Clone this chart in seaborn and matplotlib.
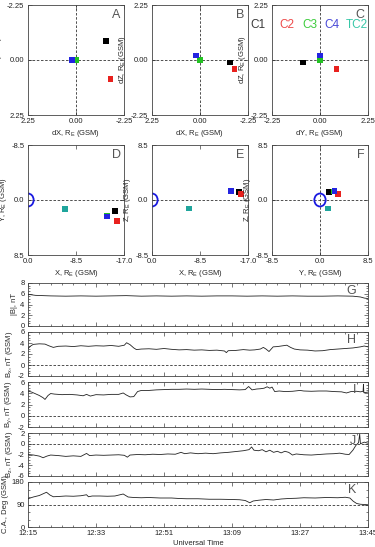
import numpy as np
import pandas as pd
import matplotlib
matplotlib.use("Agg")
import matplotlib.pyplot as plt
import seaborn as sns
from matplotlib.patches import Arc, Ellipse
from matplotlib.ticker import AutoMinorLocator

# spacecraft
craft = ["C1", "C2", "C3", "C4", "TC2"]
craft_colors = ["#000000", "#e8211e", "#22c322", "#2424e0", "#1fa59c"]
legend_colors = ["#3a3a3a", "#ee4a4a", "#3ccc3c", "#4a4ad8", "#38c8a8"]

# separation from C3, R_E (GSM)
sep_dx = [-1.40, -1.62, 0.00, 0.18]
sep_dy = [-0.78, 0.77, 0.00, 0.00]
sep_dz = [-0.10, -0.37, 0.00, 0.18]

# positions, R_E (GSM)
pos_x = [-15.4, -15.7, -13.95, -14.0, -6.5]
pos_y = [1.65, 3.22, 2.48, 2.55, 1.37]
pos_z = [1.20, 0.94, 1.32, 1.41, -1.30]

# time series, minutes after 12:15
time_labels = ["12:15", "12:33", "12:51", "13:09", "13:27", "13:45"]

bmag_t = [0, 2, 4, 6, 10, 14, 18, 22, 26, 30, 34, 38, 42, 46, 50, 54, 58, 62,
          66, 70, 74, 78, 82, 86, 88, 89, 90]
bmag_v = [5.9, 5.7, 5.65, 5.6, 5.55, 5.6, 5.55, 5.6, 5.65, 5.55, 5.6, 5.55, 5.6,
          5.55, 5.6, 5.6, 5.55, 5.6, 5.55, 5.6, 5.55, 5.55, 5.6, 5.55, 5.4, 5.2, 5.1]

bx_t = [0, 0.8, 1.4, 3, 4.5, 5.5, 6.7, 8, 10, 12, 14, 16, 18, 20, 22, 24, 25.5,
        26.1, 27, 28, 28.7, 30, 32, 34, 36, 38, 40, 42, 44, 46, 48, 50, 52, 52.5,
        53, 55, 57, 58.7, 60, 61.5, 62.3, 63, 63.8, 64.9, 66, 67.5, 68.5, 69.5,
        70.5, 72, 74, 76, 78, 80, 82, 84, 86, 88, 89, 90]
bx_v = [3.0, 3.5, 3.75, 3.85, 3.8, 3.5, 3.2, 3.4, 3.45, 3.35, 3.5, 3.4, 3.5,
        3.45, 3.55, 3.4, 3.6, 4.05, 3.7, 3.1, 2.8, 2.9, 2.95, 2.85, 3.0, 2.85,
        2.75, 2.8, 2.7, 2.75, 2.65, 2.7, 2.55, 2.25, 2.6, 2.65, 2.8, 2.7, 2.75,
        2.9, 3.2, 2.9, 2.45, 3.3, 3.35, 3.5, 3.6, 3.2, 2.9, 2.75, 2.7, 2.55, 2.6,
        2.8, 2.9, 3.0, 3.1, 3.3, 3.45, 3.3]

by_t = [0, 1, 2, 3, 4, 4.5, 5.3, 6, 7, 9, 11, 13, 14.6, 15.5, 16.5, 18, 20, 22,
        24, 25.2, 26, 27, 28, 29, 30, 32, 34, 36, 38, 40, 42, 44, 46, 48, 50, 52,
        54, 56, 57.5, 58.4, 59.3, 60.5, 61.5, 62.5, 63.3, 64, 64.6, 65.3, 66.5,
        68, 70, 72, 73, 75, 77, 79, 81, 83, 84.3, 85.5, 87, 88, 88.7, 88.8, 88.9, 90]
by_v = [4.4, 4.2, 3.9, 3.6, 3.2, 2.9, 3.6, 3.95, 3.85, 3.75, 3.8, 3.7, 3.55,
        3.8, 3.5, 3.75, 3.7, 3.8, 3.8, 4.05, 3.7, 3.35, 3.4, 4.3, 4.5, 4.5, 4.6,
        4.65, 4.7, 4.7, 4.75, 4.7, 4.75, 4.7, 4.65, 4.7, 4.65, 4.6, 4.65, 5.2,
        4.6, 4.75, 4.8, 4.9, 5.15, 4.9, 5.1, 4.3, 4.4, 4.3, 4.35, 4.5, 4.4, 4.35,
        4.4, 4.4, 4.3, 4.25, 4.05, 4.3, 4.35, 4.25, 4.35, 5.6, 4.1, 4.2]

bz_t = [0, 1.5, 3, 4, 5, 6, 8, 10, 12, 14, 15.5, 16.3, 18, 20, 22, 24, 25.5,
        26.3, 27, 29, 31, 33, 35, 37, 39, 40.5, 41.5, 43, 45, 47, 49, 51, 53, 55,
        57, 58.5, 59.2, 59.8, 61, 62, 63, 64, 65, 66, 67, 68, 69, 70, 71, 73, 75,
        77, 79, 81, 82.5, 84, 85, 86, 86.8, 87.5, 87.8, 88, 89, 90]
bz_v = [-2.0, -2.1, -2.3, -2.6, -2.3, -2.1, -2.2, -2.35, -2.25, -2.35, -1.8,
        -2.2, -2.1, -2.15, -2.1, -2.05, -2.15, -2.5, -2.1, -2.0, -2.05, -1.95,
        -2.0, -1.9, -1.95, -1.6, -1.85, -1.7, -1.85, -1.75, -1.85, -1.7, -1.6,
        -1.45, -1.3, -1.1, -0.6, -1.2, -1.3, -1.1, -1.5, -1.2, -1.6, -1.4, -1.7,
        -1.4, -1.6, -2.1, -1.9, -2.05, -2.1, -2.0, -1.9, -1.85, -1.75, -1.95,
        -2.0, -1.2, -0.3, 0.2, 1.8, 0.0, 0.3, 0.1]

ca_t = [0, 1.4, 3, 4.9, 5.8, 6.7, 8, 10, 12, 14, 15.5, 16, 17, 19, 21, 23, 25.2,
        26.5, 28, 30, 32, 35, 38, 40, 42, 45, 48, 51, 54, 56, 57.5, 58.7, 59.6,
        61, 63, 65, 67, 69, 71, 73, 76, 79, 82, 84, 85.2, 86.1, 87, 88, 89, 90]
ca_v = [113, 120, 126, 139, 128, 121, 122, 124, 123, 125, 129, 121, 124, 124,
        123, 124, 132, 120, 118, 117, 118, 116, 116, 114, 113, 113, 111, 111,
        110, 109, 106, 97, 104, 107, 110, 108, 112, 114, 115, 117, 116, 118, 117,
        119, 116, 103, 94, 91, 90, 89]

sns.set_theme(style="ticks")
plt.rcParams["font.family"] = ["Liberation Sans", "DejaVu Sans"]
plt.rcParams["mathtext.fontset"] = "custom"
plt.rcParams["mathtext.rm"] = "Liberation Sans"
plt.rcParams["axes.unicode_minus"] = False

W, H = 375, 547
fig = plt.figure(figsize=(W / 100, H / 100), dpi=100)
fig.patch.set_facecolor("white")

def box(x0, y0, x1, y1):
    return fig.add_axes([x0 / W, 1 - y1 / H, (x1 - x0) / W, (y1 - y0) / H])

def style(ax):
    for s in ax.spines.values():
        s.set_linewidth(0.6)
        s.set_color("#444444")
    ax.tick_params(which="both", direction="in", top=True, right=True,
                   width=0.5, colors="#444444", labelsize=5.5, pad=2.5,
                   labelcolor="#222222")
    ax.tick_params(which="major", length=3)
    ax.tick_params(which="minor", length=1.6)
    ax.set_facecolor("white")

def dash(ax, h=None, v=None):
    if h is not None:
        ax.axhline(h, ls=(0, (3, 2)), lw=0.6, color="#333333", zorder=1)
    if v is not None:
        ax.axvline(v, ls=(0, (3, 2)), lw=0.6, color="#333333", zorder=1)

def letter(ax, s):
    ax.text(0.965, 0.965, s, transform=ax.transAxes, ha="right", va="top",
            fontsize=9, color="#555555")

def scatter(ax, xs, ys, names):
    df = pd.DataFrame({"x": xs, "y": ys, "sc": names})
    sns.scatterplot(data=df, x="x", y="y", hue="sc", hue_order=names,
                    palette=craft_colors[:len(names)], marker="s", s=17,
                    linewidth=0, legend=False, ax=ax, zorder=3)

RE = r"R$_\mathrm{E}$"
lab_fs = 5.5

# --- relative separations ---
top = [(28, 124), (152, 248), (272, 368)]
sep_specs = [
    ("A", sep_dx, sep_dy, (2.25, -2.25), (2.25, -2.25), "dX", "dY"),
    ("B", sep_dx, sep_dz, (2.25, -2.25), (-2.25, 2.25), "dX", "dZ"),
    ("C", sep_dy, sep_dz, (-2.25, 2.25), (-2.25, 2.25), "dY", "dZ"),
]
for (x0, x1), (name, xs, ys, xl, yl, xn, yn) in zip(top, sep_specs):
    ax = box(x0, 5, x1, 115)
    style(ax)
    dash(ax, h=0, v=0)
    scatter(ax, xs, ys, craft[:4])
    ax.set_xlim(*xl)
    ax.set_ylim(*yl)
    ax.set_xticks([-2.25, 0, 2.25])
    ax.set_yticks([-2.25, 0, 2.25])
    ax.set_xticklabels(["-2.25", "0.00", "2.25"])
    ax.set_yticklabels(["-2.25", "0.00", "2.25"])
    ax.set_xlabel(f"{xn}, {RE} (GSM)", fontsize=lab_fs, labelpad=2)
    ax.set_ylabel(f"{yn}, {RE} (GSM)", fontsize=lab_fs, labelpad=2)
    letter(ax, name)
    if name == "C":
        for lx, txt, c in zip([258, 287, 310, 332, 357], craft, legend_colors):
            fig.text(lx / W, 1 - 24.5 / H, txt, ha="center", va="center",
                     fontsize=8.5, color=c)

# --- positions ---
pos_specs = [
    ("D", pos_x, pos_y, (0, -17), (8.5, -8.5), "X", "Y",
     [0, -8.5, -17], ["0.0", "-8.5", "-17.0"]),
    ("E", pos_x, pos_z, (0, -17), (-8.5, 8.5), "X", "Z",
     [0, -8.5, -17], ["0.0", "-8.5", "-17.0"]),
    ("F", pos_y, pos_z, (-8.5, 8.5), (-8.5, 8.5), "Y", "Z",
     [-8.5, 0, 8.5], ["-8.5", "0.0", "8.5"]),
]
for (x0, x1), (name, xs, ys, xl, yl, xn, yn, xt, xtl) in zip(top, pos_specs):
    ax = box(x0, 145, x1, 255)
    style(ax)
    if name == "F":
        dash(ax, h=0, v=0)
        ax.add_patch(Ellipse((0, 0), 2, 2, fill=False, lw=1.3,
                             color="#1a1ae0", zorder=2))
    else:
        dash(ax, h=0)
        ax.add_patch(Arc((0, 0), 2, 2, theta1=90, theta2=270, lw=1.3,
                         color="#1a1ae0", zorder=2))
    scatter(ax, xs, ys, craft)
    ax.set_xlim(*xl)
    ax.set_ylim(*yl)
    ax.set_xticks(xt)
    ax.set_xticklabels(xtl)
    ax.set_yticks([-8.5, 0, 8.5])
    ax.set_yticklabels(["-8.5", "0.0", "8.5"])
    ax.set_xlabel(f"{xn}, {RE} (GSM)", fontsize=lab_fs, labelpad=2)
    ax.set_ylabel(f"{yn}, {RE} (GSM)", fontsize=lab_fs, labelpad=2)
    letter(ax, name)

# --- time series ---
ts_specs = [
    ("G", bmag_t, bmag_v, (0, 8), [0, 2, 4, 6, 8], None, "|B|, nT", 4),
    ("H", bx_t, bx_v, (-2, 6), [-2, 0, 2, 4, 6], 0,
     r"B$_\mathrm{x}$, nT (GSM)", 4),
    ("I", by_t, by_v, (-2, 6), [-2, 0, 2, 4, 6], 0,
     r"B$_\mathrm{y}$, nT (GSM)", 4),
    ("J", bz_t, bz_v, (-6, 2), [-6, -4, -2, 0, 2], 0,
     r"B$_\mathrm{z}$, nT (GSM)", 4),
    ("K", ca_t, ca_v, (0, 180), [0, 90, 180], 90, "C.A., Deg (GSM)", 3),
]
rows = [(283, 326), (332, 376), (382, 427), (433, 476), (482, 527)]
for (y0, y1), (name, tt, vv, yl, yt, dz, ylab, nmin) in zip(rows, ts_specs):
    ax = box(28, y0, 368, y1)
    style(ax)
    if dz is not None:
        dash(ax, h=dz)
    sns.lineplot(x=tt, y=vv, ax=ax, color="#222222", lw=0.6, zorder=3)
    ax.set_xlim(0, 90)
    ax.set_ylim(*yl)
    ax.set_yticks(yt)
    ax.set_xticks(range(0, 91, 18))
    ax.xaxis.set_minor_locator(AutoMinorLocator(6))
    ax.yaxis.set_minor_locator(AutoMinorLocator(nmin))
    ax.set_ylabel(ylab, fontsize=lab_fs, labelpad=2)
    letter(ax, name)
    if name == "K":
        ax.set_xticklabels(time_labels)
        ax.set_xlabel("Universal Time", fontsize=lab_fs, labelpad=1.5)
    else:
        ax.set_xticklabels([])

fig.savefig("out.png", dpi=100, facecolor="white")
